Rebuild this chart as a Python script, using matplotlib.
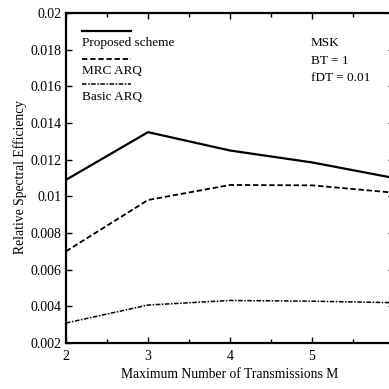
import matplotlib
matplotlib.use("Agg")
import matplotlib.pyplot as plt
from matplotlib.lines import Line2D
from matplotlib.ticker import MultipleLocator

plt.rcParams['font.family'] = ['Liberation Serif', 'DejaVu Serif']

M = [2, 3, 4, 5, 6]
proposed = [0.0109, 0.01350, 0.01250, 0.01185, 0.0110]
mrc = [0.0070, 0.0098, 0.01062, 0.01060, 0.0102]
basic = [0.00309, 0.00407, 0.00432, 0.00428, 0.0042]
yticks = [0.002, 0.004, 0.006, 0.008, 0.01, 0.012, 0.014, 0.016, 0.018, 0.02]
ytick_labels = ['0.002', '0.004', '0.006', '0.008', '0.01', '0.012', '0.014', '0.016', '0.018', '0.02']
xticks = [2, 3, 4, 5, 6]
xtick_labels = ['2', '3', '4', '5', '']

fig = plt.figure(figsize=(3.89, 3.89), dpi=100)
ax = fig.add_axes([66/389, 1-343/389, 328/389, 330/389])

ax.plot(M, proposed, color='black', lw=1.6, ls='-')
ax.plot(M, mrc, color='black', lw=1.3, ls=(0, (3, 1.5)))
ax.plot(M, basic, color='black', lw=1.1, ls=(0, (3, 1, 1, 1)))

ax.set_xlim(2, 6)
ax.set_ylim(0.002, 0.02)
ax.set_xticks(xticks)
ax.set_xticklabels(xtick_labels)
ax.xaxis.set_minor_locator(MultipleLocator(0.5))
ax.set_yticks(yticks)
ax.set_yticklabels(ytick_labels)
ax.tick_params(which='both', direction='in', top=True, right=True, labelsize=10, width=1.0)
ax.tick_params(which='major', length=4)
ax.tick_params(which='minor', length=3)
ax.tick_params(axis='x', pad=5)
ax.tick_params(axis='y', pad=3)
for s in ax.spines.values():
    s.set_linewidth(1.6)

ax.set_xlabel('Maximum Number of Transmissions M', fontsize=9.8, va='center')
ax.xaxis.set_label_coords(0.5, -(374-343)/330)
ax.set_ylabel('Relative Spectral Efficiency', fontsize=9.8, va='center')
ax.yaxis.set_label_coords((20-66)/328, 0.5 - (177-178)/330)

# custom legend: line segment above each label
legend_items = [('Proposed scheme', '-', 1.6), ('MRC ARQ', (0, (3, 1.5)), 1.3), ('Basic ARQ', (0, (3, 1, 1, 1)), 1.1)]
line_y = [1-(31-13)/330, 1-(59-13)/330, 1-(84-13)/330]
text_y = [1-(43-13)/330, 1-(71-13)/330, 1-(97-13)/330]
for (lab, ls, lw), ly, ty in zip(legend_items, line_y, text_y):
    ax.add_line(Line2D([(82-66)/328, (131-66)/328], [ly, ly], transform=ax.transAxes,
                       color='black', ls=ls, lw=lw))
    ax.text((82-66)/328, ty, lab, transform=ax.transAxes, fontsize=9.5, va='center', ha='left')

for i, t in enumerate(['MSK', 'BT = 1', 'fDT = 0.01']):
    ax.text((311-66)/328, 1-(43+i*17.5-13)/330, t, transform=ax.transAxes, fontsize=9.5,
            va='center', ha='left')

fig.savefig('out.png', dpi=100)
